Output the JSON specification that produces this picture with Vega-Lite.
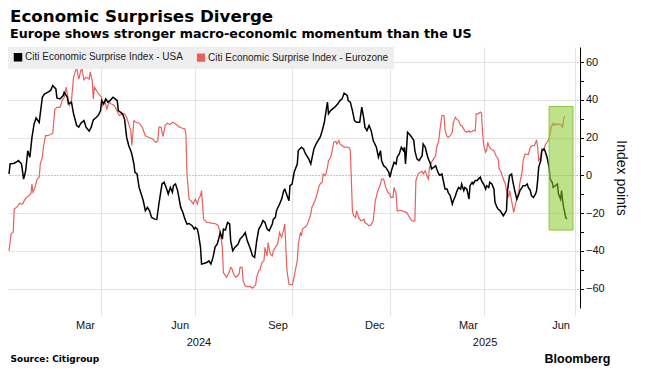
{
  "$schema": "https://vega.github.io/schema/vega-lite/v6.json",
  "width": 572,
  "height": 261,
  "autosize": {"type": "none"},
  "padding": {"left": 8, "top": 47, "right": 76, "bottom": 62},
  "background": "white",
  "title": {
    "text": "Economic Surprises Diverge",
    "subtitle": "Europe shows stronger macro-economic momentum than the US",
    "anchor": "start",
    "frame": "group",
    "dx": 2,
    "offset": 6,
    "font": "DejaVu Sans",
    "fontSize": 16.7,
    "fontWeight": "bold",
    "color": "#000000",
    "subtitleFont": "DejaVu Sans",
    "subtitleFontSize": 12.7,
    "subtitleFontWeight": "bold",
    "subtitleColor": "#000000",
    "subtitlePadding": 3
  },
  "resolve": {"axis": {"x": "independent"}},
  "layer": [
    {
      "data": {
        "values": [
          {"date": "2024-01-04", "series": "Eurozone", "value": -40},
          {"date": "2024-01-06", "series": "Eurozone", "value": -31},
          {"date": "2024-01-08", "series": "Eurozone", "value": -30},
          {"date": "2024-01-09", "series": "Eurozone", "value": -17.9},
          {"date": "2024-01-12", "series": "Eurozone", "value": -16.6},
          {"date": "2024-01-14", "series": "Eurozone", "value": -14.9},
          {"date": "2024-01-17", "series": "Eurozone", "value": -15.2},
          {"date": "2024-01-19", "series": "Eurozone", "value": -13},
          {"date": "2024-01-21", "series": "Eurozone", "value": -11.7},
          {"date": "2024-01-23", "series": "Eurozone", "value": -10.8},
          {"date": "2024-01-25", "series": "Eurozone", "value": -9.9},
          {"date": "2024-01-26", "series": "Eurozone", "value": -4.6},
          {"date": "2024-01-27", "series": "Eurozone", "value": -9},
          {"date": "2024-01-29", "series": "Eurozone", "value": -6.4},
          {"date": "2024-01-31", "series": "Eurozone", "value": -2},
          {"date": "2024-02-02", "series": "Eurozone", "value": -1},
          {"date": "2024-02-03", "series": "Eurozone", "value": 6},
          {"date": "2024-02-05", "series": "Eurozone", "value": 9.6},
          {"date": "2024-02-06", "series": "Eurozone", "value": 14.9},
          {"date": "2024-02-08", "series": "Eurozone", "value": 21},
          {"date": "2024-02-10", "series": "Eurozone", "value": 21},
          {"date": "2024-02-13", "series": "Eurozone", "value": 21.6},
          {"date": "2024-02-15", "series": "Eurozone", "value": 22.3},
          {"date": "2024-02-17", "series": "Eurozone", "value": 35},
          {"date": "2024-02-19", "series": "Eurozone", "value": 36},
          {"date": "2024-02-22", "series": "Eurozone", "value": 36},
          {"date": "2024-02-24", "series": "Eurozone", "value": 39.6},
          {"date": "2024-02-26", "series": "Eurozone", "value": 41.4},
          {"date": "2024-02-28", "series": "Eurozone", "value": 46.7},
          {"date": "2024-02-29", "series": "Eurozone", "value": 43},
          {"date": "2024-03-02", "series": "Eurozone", "value": 37},
          {"date": "2024-03-04", "series": "Eurozone", "value": 39.6},
          {"date": "2024-03-06", "series": "Eurozone", "value": 52},
          {"date": "2024-03-08", "series": "Eurozone", "value": 55.6},
          {"date": "2024-03-09", "series": "Eurozone", "value": 57},
          {"date": "2024-03-11", "series": "Eurozone", "value": 51},
          {"date": "2024-03-13", "series": "Eurozone", "value": 55.6},
          {"date": "2024-03-14", "series": "Eurozone", "value": 56.5},
          {"date": "2024-03-16", "series": "Eurozone", "value": 50.6},
          {"date": "2024-03-18", "series": "Eurozone", "value": 52},
          {"date": "2024-03-21", "series": "Eurozone", "value": 51},
          {"date": "2024-03-22", "series": "Eurozone", "value": 54.7},
          {"date": "2024-03-24", "series": "Eurozone", "value": 50},
          {"date": "2024-03-25", "series": "Eurozone", "value": 40.5},
          {"date": "2024-03-26", "series": "Eurozone", "value": 46.7},
          {"date": "2024-03-29", "series": "Eurozone", "value": 44},
          {"date": "2024-03-30", "series": "Eurozone", "value": 43.2},
          {"date": "2024-04-02", "series": "Eurozone", "value": 41.4},
          {"date": "2024-04-03", "series": "Eurozone", "value": 37},
          {"date": "2024-04-05", "series": "Eurozone", "value": 39.6},
          {"date": "2024-04-07", "series": "Eurozone", "value": 35.2},
          {"date": "2024-04-09", "series": "Eurozone", "value": 38.8},
          {"date": "2024-04-11", "series": "Eurozone", "value": 37.9},
          {"date": "2024-04-14", "series": "Eurozone", "value": 37},
          {"date": "2024-04-16", "series": "Eurozone", "value": 35.2},
          {"date": "2024-04-18", "series": "Eurozone", "value": 32.6},
          {"date": "2024-04-19", "series": "Eurozone", "value": 31.7},
          {"date": "2024-04-22", "series": "Eurozone", "value": 32.6},
          {"date": "2024-04-24", "series": "Eurozone", "value": 32.6},
          {"date": "2024-04-26", "series": "Eurozone", "value": 30.8},
          {"date": "2024-04-28", "series": "Eurozone", "value": 27.3},
          {"date": "2024-04-30", "series": "Eurozone", "value": 23.7},
          {"date": "2024-05-01", "series": "Eurozone", "value": 15.8},
          {"date": "2024-05-03", "series": "Eurozone", "value": 29},
          {"date": "2024-05-05", "series": "Eurozone", "value": 28.1},
          {"date": "2024-05-08", "series": "Eurozone", "value": 27.6},
          {"date": "2024-05-11", "series": "Eurozone", "value": 25.5},
          {"date": "2024-05-14", "series": "Eurozone", "value": 21},
          {"date": "2024-05-17", "series": "Eurozone", "value": 20.2},
          {"date": "2024-05-19", "series": "Eurozone", "value": 19.8},
          {"date": "2024-05-21", "series": "Eurozone", "value": 19.3},
          {"date": "2024-05-24", "series": "Eurozone", "value": 17.5},
          {"date": "2024-05-26", "series": "Eurozone", "value": 18.4},
          {"date": "2024-05-27", "series": "Eurozone", "value": 25.5},
          {"date": "2024-05-29", "series": "Eurozone", "value": 25.5},
          {"date": "2024-05-31", "series": "Eurozone", "value": 20.5},
          {"date": "2024-06-02", "series": "Eurozone", "value": 26.4},
          {"date": "2024-06-04", "series": "Eurozone", "value": 27.6},
          {"date": "2024-06-07", "series": "Eurozone", "value": 26.9},
          {"date": "2024-06-09", "series": "Eurozone", "value": 28.1},
          {"date": "2024-06-12", "series": "Eurozone", "value": 27.3},
          {"date": "2024-06-15", "series": "Eurozone", "value": 25.8},
          {"date": "2024-06-18", "series": "Eurozone", "value": 25.1},
          {"date": "2024-06-21", "series": "Eurozone", "value": 24.6},
          {"date": "2024-06-22", "series": "Eurozone", "value": 21.9},
          {"date": "2024-06-23", "series": "Eurozone", "value": 0.7},
          {"date": "2024-06-25", "series": "Eurozone", "value": -12.6},
          {"date": "2024-06-27", "series": "Eurozone", "value": -13.5},
          {"date": "2024-06-29", "series": "Eurozone", "value": -15.2},
          {"date": "2024-07-01", "series": "Eurozone", "value": -12.6},
          {"date": "2024-07-03", "series": "Eurozone", "value": -15.2},
          {"date": "2024-07-04", "series": "Eurozone", "value": -12.6},
          {"date": "2024-07-06", "series": "Eurozone", "value": -10.8},
          {"date": "2024-07-07", "series": "Eurozone", "value": -8.1},
          {"date": "2024-07-09", "series": "Eurozone", "value": -23.2},
          {"date": "2024-07-12", "series": "Eurozone", "value": -25},
          {"date": "2024-07-14", "series": "Eurozone", "value": -25},
          {"date": "2024-07-16", "series": "Eurozone", "value": -25.3},
          {"date": "2024-07-19", "series": "Eurozone", "value": -25.5},
          {"date": "2024-07-21", "series": "Eurozone", "value": -25.8},
          {"date": "2024-07-23", "series": "Eurozone", "value": -26.7},
          {"date": "2024-07-25", "series": "Eurozone", "value": -30.3},
          {"date": "2024-07-27", "series": "Eurozone", "value": -38.2},
          {"date": "2024-07-28", "series": "Eurozone", "value": -51.5},
          {"date": "2024-07-31", "series": "Eurozone", "value": -54},
          {"date": "2024-08-02", "series": "Eurozone", "value": -52},
          {"date": "2024-08-04", "series": "Eurozone", "value": -48.8},
          {"date": "2024-08-05", "series": "Eurozone", "value": -49.2},
          {"date": "2024-08-07", "series": "Eurozone", "value": -52.4},
          {"date": "2024-08-09", "series": "Eurozone", "value": -54},
          {"date": "2024-08-12", "series": "Eurozone", "value": -52.4},
          {"date": "2024-08-13", "series": "Eurozone", "value": -48.8},
          {"date": "2024-08-15", "series": "Eurozone", "value": -48.8},
          {"date": "2024-08-16", "series": "Eurozone", "value": -56},
          {"date": "2024-08-18", "series": "Eurozone", "value": -58.6},
          {"date": "2024-08-20", "series": "Eurozone", "value": -59},
          {"date": "2024-08-23", "series": "Eurozone", "value": -59},
          {"date": "2024-08-25", "series": "Eurozone", "value": -59.8},
          {"date": "2024-08-28", "series": "Eurozone", "value": -58},
          {"date": "2024-08-29", "series": "Eurozone", "value": -54},
          {"date": "2024-08-31", "series": "Eurozone", "value": -50.6},
          {"date": "2024-09-01", "series": "Eurozone", "value": -50.3},
          {"date": "2024-09-03", "series": "Eurozone", "value": -46.2},
          {"date": "2024-09-05", "series": "Eurozone", "value": -45.3},
          {"date": "2024-09-06", "series": "Eurozone", "value": -38.2},
          {"date": "2024-09-08", "series": "Eurozone", "value": -42.7},
          {"date": "2024-09-09", "series": "Eurozone", "value": -35.6},
          {"date": "2024-09-11", "series": "Eurozone", "value": -41.8},
          {"date": "2024-09-13", "series": "Eurozone", "value": -42.7},
          {"date": "2024-09-14", "series": "Eurozone", "value": -40},
          {"date": "2024-09-16", "series": "Eurozone", "value": -38.2},
          {"date": "2024-09-18", "series": "Eurozone", "value": -36.5},
          {"date": "2024-09-20", "series": "Eurozone", "value": -30.3},
          {"date": "2024-09-22", "series": "Eurozone", "value": -32.9},
          {"date": "2024-09-24", "series": "Eurozone", "value": -28.5},
          {"date": "2024-09-25", "series": "Eurozone", "value": -25.8},
          {"date": "2024-09-27", "series": "Eurozone", "value": -50},
          {"date": "2024-09-29", "series": "Eurozone", "value": -57.7},
          {"date": "2024-10-02", "series": "Eurozone", "value": -58},
          {"date": "2024-10-03", "series": "Eurozone", "value": -56.6},
          {"date": "2024-10-05", "series": "Eurozone", "value": -50.6},
          {"date": "2024-10-07", "series": "Eurozone", "value": -45.3},
          {"date": "2024-10-08", "series": "Eurozone", "value": -36.5},
          {"date": "2024-10-10", "series": "Eurozone", "value": -30.3},
          {"date": "2024-10-11", "series": "Eurozone", "value": -32},
          {"date": "2024-10-12", "series": "Eurozone", "value": -28.5},
          {"date": "2024-10-14", "series": "Eurozone", "value": -27.6},
          {"date": "2024-10-16", "series": "Eurozone", "value": -26.7},
          {"date": "2024-10-18", "series": "Eurozone", "value": -24},
          {"date": "2024-10-20", "series": "Eurozone", "value": -20.5},
          {"date": "2024-10-21", "series": "Eurozone", "value": -17},
          {"date": "2024-10-24", "series": "Eurozone", "value": -13.5},
          {"date": "2024-10-26", "series": "Eurozone", "value": -9.9},
          {"date": "2024-10-28", "series": "Eurozone", "value": -5.5},
          {"date": "2024-10-29", "series": "Eurozone", "value": -4.6},
          {"date": "2024-10-31", "series": "Eurozone", "value": -3.7},
          {"date": "2024-11-01", "series": "Eurozone", "value": 0.7},
          {"date": "2024-11-03", "series": "Eurozone", "value": -0.2},
          {"date": "2024-11-05", "series": "Eurozone", "value": 4.2},
          {"date": "2024-11-06", "series": "Eurozone", "value": 7.8},
          {"date": "2024-11-08", "series": "Eurozone", "value": 9.6},
          {"date": "2024-11-09", "series": "Eurozone", "value": 11.3},
          {"date": "2024-11-11", "series": "Eurozone", "value": 17.5},
          {"date": "2024-11-13", "series": "Eurozone", "value": 18},
          {"date": "2024-11-14", "series": "Eurozone", "value": 16.6},
          {"date": "2024-11-16", "series": "Eurozone", "value": 18.4},
          {"date": "2024-11-17", "series": "Eurozone", "value": 16.6},
          {"date": "2024-11-19", "series": "Eurozone", "value": 15.8},
          {"date": "2024-11-21", "series": "Eurozone", "value": 14.9},
          {"date": "2024-11-24", "series": "Eurozone", "value": 14.9},
          {"date": "2024-11-26", "series": "Eurozone", "value": 14.5},
          {"date": "2024-11-27", "series": "Eurozone", "value": 13.1},
          {"date": "2024-11-29", "series": "Eurozone", "value": -18.8},
          {"date": "2024-11-30", "series": "Eurozone", "value": -21.2},
          {"date": "2024-12-02", "series": "Eurozone", "value": -22.3},
          {"date": "2024-12-03", "series": "Eurozone", "value": -18.8},
          {"date": "2024-12-05", "series": "Eurozone", "value": -22.3},
          {"date": "2024-12-07", "series": "Eurozone", "value": -24},
          {"date": "2024-12-08", "series": "Eurozone", "value": -24},
          {"date": "2024-12-10", "series": "Eurozone", "value": -23.2},
          {"date": "2024-12-11", "series": "Eurozone", "value": -25},
          {"date": "2024-12-13", "series": "Eurozone", "value": -25.8},
          {"date": "2024-12-15", "series": "Eurozone", "value": -26.7},
          {"date": "2024-12-17", "series": "Eurozone", "value": -26.2},
          {"date": "2024-12-19", "series": "Eurozone", "value": -24},
          {"date": "2024-12-21", "series": "Eurozone", "value": -13.5},
          {"date": "2024-12-23", "series": "Eurozone", "value": -9},
          {"date": "2024-12-24", "series": "Eurozone", "value": -7.3},
          {"date": "2024-12-26", "series": "Eurozone", "value": -4.6},
          {"date": "2024-12-27", "series": "Eurozone", "value": -2},
          {"date": "2024-12-29", "series": "Eurozone", "value": -2},
          {"date": "2024-12-31", "series": "Eurozone", "value": -6.4},
          {"date": "2025-01-02", "series": "Eurozone", "value": -9},
          {"date": "2025-01-04", "series": "Eurozone", "value": -9.9},
          {"date": "2025-01-05", "series": "Eurozone", "value": -11.7},
          {"date": "2025-01-07", "series": "Eurozone", "value": -11.7},
          {"date": "2025-01-08", "series": "Eurozone", "value": -6.4},
          {"date": "2025-01-10", "series": "Eurozone", "value": -9.9},
          {"date": "2025-01-11", "series": "Eurozone", "value": -18.8},
          {"date": "2025-01-12", "series": "Eurozone", "value": -18.8},
          {"date": "2025-01-14", "series": "Eurozone", "value": -18.4},
          {"date": "2025-01-17", "series": "Eurozone", "value": -19.1},
          {"date": "2025-01-20", "series": "Eurozone", "value": -19.6},
          {"date": "2025-01-23", "series": "Eurozone", "value": -22.3},
          {"date": "2025-01-25", "series": "Eurozone", "value": -24},
          {"date": "2025-01-27", "series": "Eurozone", "value": -24.4},
          {"date": "2025-01-28", "series": "Eurozone", "value": -24},
          {"date": "2025-01-29", "series": "Eurozone", "value": -2.8},
          {"date": "2025-01-31", "series": "Eurozone", "value": 0.7},
          {"date": "2025-02-02", "series": "Eurozone", "value": 1.6},
          {"date": "2025-02-04", "series": "Eurozone", "value": 2.1},
          {"date": "2025-02-05", "series": "Eurozone", "value": 0.7},
          {"date": "2025-02-07", "series": "Eurozone", "value": 2.5},
          {"date": "2025-02-09", "series": "Eurozone", "value": -1},
          {"date": "2025-02-10", "series": "Eurozone", "value": -2},
          {"date": "2025-02-11", "series": "Eurozone", "value": 4.2},
          {"date": "2025-02-13", "series": "Eurozone", "value": 6.9},
          {"date": "2025-02-15", "series": "Eurozone", "value": 8.7},
          {"date": "2025-02-17", "series": "Eurozone", "value": 10.4},
          {"date": "2025-02-18", "series": "Eurozone", "value": 14.9},
          {"date": "2025-02-20", "series": "Eurozone", "value": 18.4},
          {"date": "2025-02-21", "series": "Eurozone", "value": 23.7},
          {"date": "2025-02-23", "series": "Eurozone", "value": 31.7},
          {"date": "2025-02-25", "series": "Eurozone", "value": 31.7},
          {"date": "2025-02-26", "series": "Eurozone", "value": 23.7},
          {"date": "2025-02-28", "series": "Eurozone", "value": 20.5},
          {"date": "2025-03-01", "series": "Eurozone", "value": 20.2},
          {"date": "2025-03-03", "series": "Eurozone", "value": 21},
          {"date": "2025-03-05", "series": "Eurozone", "value": 22.8},
          {"date": "2025-03-06", "series": "Eurozone", "value": 28.1},
          {"date": "2025-03-08", "series": "Eurozone", "value": 30.8},
          {"date": "2025-03-09", "series": "Eurozone", "value": 29.9},
          {"date": "2025-03-11", "series": "Eurozone", "value": 29},
          {"date": "2025-03-13", "series": "Eurozone", "value": 26.4},
          {"date": "2025-03-14", "series": "Eurozone", "value": 26.4},
          {"date": "2025-03-16", "series": "Eurozone", "value": 24.6},
          {"date": "2025-03-17", "series": "Eurozone", "value": 23.4},
          {"date": "2025-03-19", "series": "Eurozone", "value": 22.8},
          {"date": "2025-03-21", "series": "Eurozone", "value": 23.7},
          {"date": "2025-03-22", "series": "Eurozone", "value": 22.8},
          {"date": "2025-03-24", "series": "Eurozone", "value": 23.4},
          {"date": "2025-03-25", "series": "Eurozone", "value": 23.7},
          {"date": "2025-03-27", "series": "Eurozone", "value": 23.7},
          {"date": "2025-03-28", "series": "Eurozone", "value": 32.6},
          {"date": "2025-03-30", "series": "Eurozone", "value": 32.6},
          {"date": "2025-04-01", "series": "Eurozone", "value": 33.5},
          {"date": "2025-04-02", "series": "Eurozone", "value": 33},
          {"date": "2025-04-03", "series": "Eurozone", "value": 23.7},
          {"date": "2025-04-04", "series": "Eurozone", "value": 16.6},
          {"date": "2025-04-06", "series": "Eurozone", "value": 12.2},
          {"date": "2025-04-07", "series": "Eurozone", "value": 13.1},
          {"date": "2025-04-08", "series": "Eurozone", "value": 17.5},
          {"date": "2025-04-09", "series": "Eurozone", "value": 15.8},
          {"date": "2025-04-11", "series": "Eurozone", "value": 14},
          {"date": "2025-04-14", "series": "Eurozone", "value": 13.1},
          {"date": "2025-04-16", "series": "Eurozone", "value": 10.4},
          {"date": "2025-04-18", "series": "Eurozone", "value": 8.7},
          {"date": "2025-04-19", "series": "Eurozone", "value": 3.4},
          {"date": "2025-04-21", "series": "Eurozone", "value": 1.6},
          {"date": "2025-04-23", "series": "Eurozone", "value": -2},
          {"date": "2025-04-25", "series": "Eurozone", "value": -4.6},
          {"date": "2025-04-26", "series": "Eurozone", "value": -8.1},
          {"date": "2025-04-28", "series": "Eurozone", "value": -11.7},
          {"date": "2025-04-29", "series": "Eurozone", "value": -8.1},
          {"date": "2025-05-01", "series": "Eurozone", "value": -13.5},
          {"date": "2025-05-03", "series": "Eurozone", "value": -19.6},
          {"date": "2025-05-04", "series": "Eurozone", "value": -17},
          {"date": "2025-05-06", "series": "Eurozone", "value": -12.6},
          {"date": "2025-05-08", "series": "Eurozone", "value": -8.1},
          {"date": "2025-05-09", "series": "Eurozone", "value": -3.7},
          {"date": "2025-05-11", "series": "Eurozone", "value": 1.6},
          {"date": "2025-05-12", "series": "Eurozone", "value": 7.8},
          {"date": "2025-05-14", "series": "Eurozone", "value": 11.3},
          {"date": "2025-05-17", "series": "Eurozone", "value": 11},
          {"date": "2025-05-19", "series": "Eurozone", "value": 14.9},
          {"date": "2025-05-21", "series": "Eurozone", "value": 15.8},
          {"date": "2025-05-23", "series": "Eurozone", "value": 15.8},
          {"date": "2025-05-25", "series": "Eurozone", "value": 18.8},
          {"date": "2025-05-26", "series": "Eurozone", "value": 14.9},
          {"date": "2025-05-27", "series": "Eurozone", "value": 7.8},
          {"date": "2025-05-29", "series": "Eurozone", "value": 9.6},
          {"date": "2025-05-30", "series": "Eurozone", "value": 14},
          {"date": "2025-06-01", "series": "Eurozone", "value": 13.1},
          {"date": "2025-06-02", "series": "Eurozone", "value": 15.8},
          {"date": "2025-06-04", "series": "Eurozone", "value": 17.5},
          {"date": "2025-06-06", "series": "Eurozone", "value": 19.3},
          {"date": "2025-06-07", "series": "Eurozone", "value": 21.9},
          {"date": "2025-06-08", "series": "Eurozone", "value": 25.5},
          {"date": "2025-06-10", "series": "Eurozone", "value": 27.6},
          {"date": "2025-06-11", "series": "Eurozone", "value": 26.4},
          {"date": "2025-06-13", "series": "Eurozone", "value": 27.3},
          {"date": "2025-06-14", "series": "Eurozone", "value": 26.9},
          {"date": "2025-06-16", "series": "Eurozone", "value": 27.3},
          {"date": "2025-06-18", "series": "Eurozone", "value": 26.4},
          {"date": "2025-06-19", "series": "Eurozone", "value": 25.5},
          {"date": "2025-06-20", "series": "Eurozone", "value": 29.9},
          {"date": "2025-06-21", "series": "Eurozone", "value": 31.3},
          {"date": "2024-01-04", "series": "USA", "value": 0.7},
          {"date": "2024-01-05", "series": "USA", "value": 6},
          {"date": "2024-01-09", "series": "USA", "value": 6.4},
          {"date": "2024-01-12", "series": "USA", "value": 7.4},
          {"date": "2024-01-13", "series": "USA", "value": 7.8},
          {"date": "2024-01-16", "series": "USA", "value": 6},
          {"date": "2024-01-18", "series": "USA", "value": -2},
          {"date": "2024-01-20", "series": "USA", "value": 2.5},
          {"date": "2024-01-22", "series": "USA", "value": 13},
          {"date": "2024-01-24", "series": "USA", "value": 9.6},
          {"date": "2024-01-26", "series": "USA", "value": 20},
          {"date": "2024-01-28", "series": "USA", "value": 27},
          {"date": "2024-01-30", "series": "USA", "value": 30.4},
          {"date": "2024-02-02", "series": "USA", "value": 28},
          {"date": "2024-02-03", "series": "USA", "value": 32.6},
          {"date": "2024-02-05", "series": "USA", "value": 41.4},
          {"date": "2024-02-07", "series": "USA", "value": 43},
          {"date": "2024-02-10", "series": "USA", "value": 44},
          {"date": "2024-02-13", "series": "USA", "value": 45},
          {"date": "2024-02-15", "series": "USA", "value": 47.6},
          {"date": "2024-02-18", "series": "USA", "value": 45.8},
          {"date": "2024-02-19", "series": "USA", "value": 41},
          {"date": "2024-02-22", "series": "USA", "value": 40.5},
          {"date": "2024-02-25", "series": "USA", "value": 42.3},
          {"date": "2024-02-26", "series": "USA", "value": 44},
          {"date": "2024-02-29", "series": "USA", "value": 41.4},
          {"date": "2024-03-01", "series": "USA", "value": 37.9},
          {"date": "2024-03-04", "series": "USA", "value": 38.8},
          {"date": "2024-03-06", "series": "USA", "value": 32.6},
          {"date": "2024-03-09", "series": "USA", "value": 26.4},
          {"date": "2024-03-11", "series": "USA", "value": 25.5},
          {"date": "2024-03-13", "series": "USA", "value": 27.6},
          {"date": "2024-03-16", "series": "USA", "value": 29},
          {"date": "2024-03-18", "series": "USA", "value": 25.5},
          {"date": "2024-03-21", "series": "USA", "value": 23.4},
          {"date": "2024-03-23", "series": "USA", "value": 25.5},
          {"date": "2024-03-25", "series": "USA", "value": 29.4},
          {"date": "2024-03-28", "series": "USA", "value": 30.8},
          {"date": "2024-03-30", "series": "USA", "value": 32},
          {"date": "2024-04-01", "series": "USA", "value": 34.3},
          {"date": "2024-04-02", "series": "USA", "value": 39.6},
          {"date": "2024-04-04", "series": "USA", "value": 37.9},
          {"date": "2024-04-06", "series": "USA", "value": 40.5},
          {"date": "2024-04-08", "series": "USA", "value": 38.8},
          {"date": "2024-04-10", "series": "USA", "value": 39.6},
          {"date": "2024-04-13", "series": "USA", "value": 41.4},
          {"date": "2024-04-15", "series": "USA", "value": 40.5},
          {"date": "2024-04-17", "series": "USA", "value": 39.6},
          {"date": "2024-04-18", "series": "USA", "value": 34.3},
          {"date": "2024-04-20", "series": "USA", "value": 33.5},
          {"date": "2024-04-22", "series": "USA", "value": 32.6},
          {"date": "2024-04-24", "series": "USA", "value": 29.9},
          {"date": "2024-04-26", "series": "USA", "value": 20.2},
          {"date": "2024-04-28", "series": "USA", "value": 15.8},
          {"date": "2024-04-30", "series": "USA", "value": 13},
          {"date": "2024-05-01", "series": "USA", "value": 11.3},
          {"date": "2024-05-03", "series": "USA", "value": 6},
          {"date": "2024-05-04", "series": "USA", "value": 1.6},
          {"date": "2024-05-06", "series": "USA", "value": 0.7},
          {"date": "2024-05-08", "series": "USA", "value": -6.4},
          {"date": "2024-05-10", "series": "USA", "value": -9.9},
          {"date": "2024-05-12", "series": "USA", "value": -13.5},
          {"date": "2024-05-14", "series": "USA", "value": -18.8},
          {"date": "2024-05-16", "series": "USA", "value": -17},
          {"date": "2024-05-18", "series": "USA", "value": -18.8},
          {"date": "2024-05-20", "series": "USA", "value": -22.3},
          {"date": "2024-05-23", "series": "USA", "value": -23.2},
          {"date": "2024-05-25", "series": "USA", "value": -23.4},
          {"date": "2024-05-27", "series": "USA", "value": -15.2},
          {"date": "2024-05-30", "series": "USA", "value": -4.6},
          {"date": "2024-06-01", "series": "USA", "value": -3.7},
          {"date": "2024-06-03", "series": "USA", "value": -6.4},
          {"date": "2024-06-05", "series": "USA", "value": -9.9},
          {"date": "2024-06-07", "series": "USA", "value": -6.4},
          {"date": "2024-06-09", "series": "USA", "value": -9},
          {"date": "2024-06-10", "series": "USA", "value": -5.5},
          {"date": "2024-06-12", "series": "USA", "value": -4.6},
          {"date": "2024-06-14", "series": "USA", "value": -8.1},
          {"date": "2024-06-17", "series": "USA", "value": -17},
          {"date": "2024-06-19", "series": "USA", "value": -19.6},
          {"date": "2024-06-21", "series": "USA", "value": -23.2},
          {"date": "2024-06-23", "series": "USA", "value": -25.8},
          {"date": "2024-06-25", "series": "USA", "value": -25.5},
          {"date": "2024-06-28", "series": "USA", "value": -26.7},
          {"date": "2024-06-30", "series": "USA", "value": -28.5},
          {"date": "2024-07-01", "series": "USA", "value": -27.6},
          {"date": "2024-07-03", "series": "USA", "value": -28.5},
          {"date": "2024-07-04", "series": "USA", "value": -31},
          {"date": "2024-07-06", "series": "USA", "value": -38},
          {"date": "2024-07-07", "series": "USA", "value": -47},
          {"date": "2024-07-09", "series": "USA", "value": -46.7},
          {"date": "2024-07-12", "series": "USA", "value": -46.2},
          {"date": "2024-07-14", "series": "USA", "value": -45.3},
          {"date": "2024-07-16", "series": "USA", "value": -47},
          {"date": "2024-07-18", "series": "USA", "value": -43.5},
          {"date": "2024-07-20", "series": "USA", "value": -38},
          {"date": "2024-07-22", "series": "USA", "value": -36.5},
          {"date": "2024-07-23", "series": "USA", "value": -34.7},
          {"date": "2024-07-25", "series": "USA", "value": -30.3},
          {"date": "2024-07-27", "series": "USA", "value": -33.8},
          {"date": "2024-07-28", "series": "USA", "value": -28.5},
          {"date": "2024-07-30", "series": "USA", "value": -29},
          {"date": "2024-08-01", "series": "USA", "value": -25},
          {"date": "2024-08-03", "series": "USA", "value": -25.8},
          {"date": "2024-08-04", "series": "USA", "value": -34.7},
          {"date": "2024-08-06", "series": "USA", "value": -40},
          {"date": "2024-08-08", "series": "USA", "value": -38.2},
          {"date": "2024-08-11", "series": "USA", "value": -36.5},
          {"date": "2024-08-13", "series": "USA", "value": -33.8},
          {"date": "2024-08-16", "series": "USA", "value": -32},
          {"date": "2024-08-18", "series": "USA", "value": -30.3},
          {"date": "2024-08-20", "series": "USA", "value": -34.7},
          {"date": "2024-08-23", "series": "USA", "value": -39},
          {"date": "2024-08-25", "series": "USA", "value": -42.7},
          {"date": "2024-08-27", "series": "USA", "value": -43.5},
          {"date": "2024-08-29", "series": "USA", "value": -34.7},
          {"date": "2024-08-31", "series": "USA", "value": -28.5},
          {"date": "2024-09-02", "series": "USA", "value": -26.7},
          {"date": "2024-09-04", "series": "USA", "value": -24},
          {"date": "2024-09-06", "series": "USA", "value": -25},
          {"date": "2024-09-08", "series": "USA", "value": -28.5},
          {"date": "2024-09-10", "series": "USA", "value": -29.4},
          {"date": "2024-09-13", "series": "USA", "value": -25.8},
          {"date": "2024-09-14", "series": "USA", "value": -23.2},
          {"date": "2024-09-16", "series": "USA", "value": -22.3},
          {"date": "2024-09-17", "series": "USA", "value": -18.8},
          {"date": "2024-09-20", "series": "USA", "value": -15.2},
          {"date": "2024-09-22", "series": "USA", "value": -12.6},
          {"date": "2024-09-24", "series": "USA", "value": -8.1},
          {"date": "2024-09-25", "series": "USA", "value": -7.4},
          {"date": "2024-09-29", "series": "USA", "value": -13.5},
          {"date": "2024-09-30", "series": "USA", "value": -5.5},
          {"date": "2024-10-02", "series": "USA", "value": -4.6},
          {"date": "2024-10-04", "series": "USA", "value": 1.6},
          {"date": "2024-10-07", "series": "USA", "value": 6},
          {"date": "2024-10-08", "series": "USA", "value": 13.1},
          {"date": "2024-10-11", "series": "USA", "value": 14.9},
          {"date": "2024-10-13", "series": "USA", "value": 14},
          {"date": "2024-10-15", "series": "USA", "value": 11.3},
          {"date": "2024-10-18", "series": "USA", "value": 8.7},
          {"date": "2024-10-20", "series": "USA", "value": 6},
          {"date": "2024-10-23", "series": "USA", "value": 14},
          {"date": "2024-10-25", "series": "USA", "value": 16.6},
          {"date": "2024-10-27", "series": "USA", "value": 18.4},
          {"date": "2024-10-29", "series": "USA", "value": 20.2},
          {"date": "2024-10-31", "series": "USA", "value": 23.7},
          {"date": "2024-11-02", "series": "USA", "value": 28.1},
          {"date": "2024-11-05", "series": "USA", "value": 38.8},
          {"date": "2024-11-06", "series": "USA", "value": 32.6},
          {"date": "2024-11-08", "series": "USA", "value": 34.3},
          {"date": "2024-11-10", "series": "USA", "value": 35.2},
          {"date": "2024-11-12", "series": "USA", "value": 36.1},
          {"date": "2024-11-15", "series": "USA", "value": 37.9},
          {"date": "2024-11-17", "series": "USA", "value": 39.6},
          {"date": "2024-11-19", "series": "USA", "value": 40.5},
          {"date": "2024-11-21", "series": "USA", "value": 43.5},
          {"date": "2024-11-24", "series": "USA", "value": 42.3},
          {"date": "2024-11-25", "series": "USA", "value": 39.6},
          {"date": "2024-11-27", "series": "USA", "value": 38.8},
          {"date": "2024-11-29", "series": "USA", "value": 34.3},
          {"date": "2024-12-01", "series": "USA", "value": 29},
          {"date": "2024-12-03", "series": "USA", "value": 28.1},
          {"date": "2024-12-06", "series": "USA", "value": 28.1},
          {"date": "2024-12-08", "series": "USA", "value": 36.1},
          {"date": "2024-12-10", "series": "USA", "value": 29.9},
          {"date": "2024-12-11", "series": "USA", "value": 25.5},
          {"date": "2024-12-13", "series": "USA", "value": 23.7},
          {"date": "2024-12-15", "series": "USA", "value": 26.4},
          {"date": "2024-12-17", "series": "USA", "value": 23.7},
          {"date": "2024-12-19", "series": "USA", "value": 18.4},
          {"date": "2024-12-22", "series": "USA", "value": 14.9},
          {"date": "2024-12-24", "series": "USA", "value": 9.6},
          {"date": "2024-12-26", "series": "USA", "value": 13.1},
          {"date": "2024-12-27", "series": "USA", "value": 7.8},
          {"date": "2024-12-29", "series": "USA", "value": 5.1},
          {"date": "2024-12-31", "series": "USA", "value": 4.2},
          {"date": "2025-01-01", "series": "USA", "value": 3.4},
          {"date": "2025-01-03", "series": "USA", "value": 1.6},
          {"date": "2025-01-04", "series": "USA", "value": -1},
          {"date": "2025-01-06", "series": "USA", "value": 3.4},
          {"date": "2025-01-07", "series": "USA", "value": 5.1},
          {"date": "2025-01-08", "series": "USA", "value": 6.9},
          {"date": "2025-01-10", "series": "USA", "value": 6},
          {"date": "2025-01-11", "series": "USA", "value": 9.6},
          {"date": "2025-01-13", "series": "USA", "value": 11.3},
          {"date": "2025-01-15", "series": "USA", "value": 14.9},
          {"date": "2025-01-17", "series": "USA", "value": 13.1},
          {"date": "2025-01-18", "series": "USA", "value": 14.9},
          {"date": "2025-01-19", "series": "USA", "value": 6},
          {"date": "2025-01-20", "series": "USA", "value": 14},
          {"date": "2025-01-21", "series": "USA", "value": 22.8},
          {"date": "2025-01-23", "series": "USA", "value": 21.6},
          {"date": "2025-01-25", "series": "USA", "value": 20.2},
          {"date": "2025-01-27", "series": "USA", "value": 18.4},
          {"date": "2025-01-28", "series": "USA", "value": 13.1},
          {"date": "2025-01-30", "series": "USA", "value": 8.7},
          {"date": "2025-02-01", "series": "USA", "value": 7.8},
          {"date": "2025-02-02", "series": "USA", "value": 8.7},
          {"date": "2025-02-04", "series": "USA", "value": 10.4},
          {"date": "2025-02-05", "series": "USA", "value": 16.6},
          {"date": "2025-02-07", "series": "USA", "value": 14.9},
          {"date": "2025-02-09", "series": "USA", "value": 10.4},
          {"date": "2025-02-10", "series": "USA", "value": 8.7},
          {"date": "2025-02-12", "series": "USA", "value": 6},
          {"date": "2025-02-13", "series": "USA", "value": 3.4},
          {"date": "2025-02-15", "series": "USA", "value": 4.2},
          {"date": "2025-02-17", "series": "USA", "value": 5.1},
          {"date": "2025-02-18", "series": "USA", "value": 3.4},
          {"date": "2025-02-20", "series": "USA", "value": 0.7},
          {"date": "2025-02-21", "series": "USA", "value": 0},
          {"date": "2025-02-23", "series": "USA", "value": 0.7},
          {"date": "2025-02-25", "series": "USA", "value": -4.6},
          {"date": "2025-02-26", "series": "USA", "value": -7.3},
          {"date": "2025-02-28", "series": "USA", "value": -7.3},
          {"date": "2025-03-01", "series": "USA", "value": -9},
          {"date": "2025-03-03", "series": "USA", "value": -10.8},
          {"date": "2025-03-05", "series": "USA", "value": -15.2},
          {"date": "2025-03-06", "series": "USA", "value": -13.5},
          {"date": "2025-03-08", "series": "USA", "value": -10.8},
          {"date": "2025-03-09", "series": "USA", "value": -9},
          {"date": "2025-03-11", "series": "USA", "value": -6.4},
          {"date": "2025-03-13", "series": "USA", "value": -7.3},
          {"date": "2025-03-14", "series": "USA", "value": -4.6},
          {"date": "2025-03-16", "series": "USA", "value": -8.1},
          {"date": "2025-03-17", "series": "USA", "value": -6.4},
          {"date": "2025-03-19", "series": "USA", "value": -7.3},
          {"date": "2025-03-21", "series": "USA", "value": -12.6},
          {"date": "2025-03-22", "series": "USA", "value": -5.5},
          {"date": "2025-03-24", "series": "USA", "value": -3.7},
          {"date": "2025-03-25", "series": "USA", "value": -4.6},
          {"date": "2025-03-27", "series": "USA", "value": -2.8},
          {"date": "2025-03-29", "series": "USA", "value": -2.8},
          {"date": "2025-03-30", "series": "USA", "value": -2},
          {"date": "2025-04-01", "series": "USA", "value": -1},
          {"date": "2025-04-02", "series": "USA", "value": -2.8},
          {"date": "2025-04-04", "series": "USA", "value": -4.6},
          {"date": "2025-04-06", "series": "USA", "value": -7.3},
          {"date": "2025-04-07", "series": "USA", "value": -5.5},
          {"date": "2025-04-09", "series": "USA", "value": -6.4},
          {"date": "2025-04-10", "series": "USA", "value": -3.7},
          {"date": "2025-04-12", "series": "USA", "value": -4.6},
          {"date": "2025-04-14", "series": "USA", "value": -7.3},
          {"date": "2025-04-15", "series": "USA", "value": -14.3},
          {"date": "2025-04-17", "series": "USA", "value": -17},
          {"date": "2025-04-18", "series": "USA", "value": -17.9},
          {"date": "2025-04-20", "series": "USA", "value": -18.8},
          {"date": "2025-04-22", "series": "USA", "value": -20.5},
          {"date": "2025-04-23", "series": "USA", "value": -21.4},
          {"date": "2025-04-25", "series": "USA", "value": -19.6},
          {"date": "2025-04-26", "series": "USA", "value": -18.8},
          {"date": "2025-04-27", "series": "USA", "value": -8.1},
          {"date": "2025-04-29", "series": "USA", "value": 0},
          {"date": "2025-05-01", "series": "USA", "value": 0.7},
          {"date": "2025-05-02", "series": "USA", "value": -2.8},
          {"date": "2025-05-04", "series": "USA", "value": -8.1},
          {"date": "2025-05-06", "series": "USA", "value": -12.6},
          {"date": "2025-05-08", "series": "USA", "value": -9.9},
          {"date": "2025-05-09", "series": "USA", "value": -8.1},
          {"date": "2025-05-11", "series": "USA", "value": -6.4},
          {"date": "2025-05-12", "series": "USA", "value": -5.5},
          {"date": "2025-05-14", "series": "USA", "value": -5.5},
          {"date": "2025-05-16", "series": "USA", "value": -4.6},
          {"date": "2025-05-17", "series": "USA", "value": -6.4},
          {"date": "2025-05-19", "series": "USA", "value": -8.1},
          {"date": "2025-05-20", "series": "USA", "value": -10.8},
          {"date": "2025-05-22", "series": "USA", "value": -11.7},
          {"date": "2025-05-24", "series": "USA", "value": -9.9},
          {"date": "2025-05-25", "series": "USA", "value": -8.1},
          {"date": "2025-05-26", "series": "USA", "value": -2.8},
          {"date": "2025-05-27", "series": "USA", "value": 4.2},
          {"date": "2025-05-29", "series": "USA", "value": 7.8},
          {"date": "2025-05-30", "series": "USA", "value": 13.1},
          {"date": "2025-06-01", "series": "USA", "value": 14},
          {"date": "2025-06-02", "series": "USA", "value": 13.1},
          {"date": "2025-06-04", "series": "USA", "value": 9.6},
          {"date": "2025-06-06", "series": "USA", "value": 4.2},
          {"date": "2025-06-07", "series": "USA", "value": -2},
          {"date": "2025-06-09", "series": "USA", "value": -3.7},
          {"date": "2025-06-10", "series": "USA", "value": -6.4},
          {"date": "2025-06-12", "series": "USA", "value": -5.5},
          {"date": "2025-06-14", "series": "USA", "value": -4.6},
          {"date": "2025-06-15", "series": "USA", "value": -9.9},
          {"date": "2025-06-17", "series": "USA", "value": -12.6},
          {"date": "2025-06-18", "series": "USA", "value": -8.1},
          {"date": "2025-06-19", "series": "USA", "value": -13.5},
          {"date": "2025-06-20", "series": "USA", "value": -17},
          {"date": "2025-06-22", "series": "USA", "value": -22.3},
          {"date": "2025-06-23", "series": "USA", "value": -23.2}
        ]
      },
      "mark": {"type": "line", "interpolate": "linear"},
      "encoding": {
        "x": {
          "field": "date",
          "type": "temporal",
          "scale": {
            "type": "utc",
            "domain": [
              {"year": 2024, "month": 1, "date": 3, "utc": true},
              {"year": 2025, "month": 7, "date": 5, "hours": 17, "utc": true}
            ]
          },
          "axis": {
            "orient": "bottom",
            "values": [
              {"year": 2024, "month": 4, "date": 1, "utc": true},
              {"year": 2024, "month": 7, "date": 1, "utc": true},
              {"year": 2024, "month": 10, "date": 2, "utc": true},
              {"year": 2025, "month": 1, "date": 4, "utc": true},
              {"year": 2025, "month": 4, "date": 4, "utc": true},
              {"year": 2025, "month": 7, "date": 1, "utc": true}
            ],
            "grid": true,
            "gridColor": "#e4e4e4",
            "gridWidth": 1,
            "ticks": true,
            "tickSize": 8,
            "tickColor": "#e4e4e4",
            "labels": false,
            "domain": false,
            "title": "Bloomberg",
            "titleX": 602,
            "titleY": 54,
            "titleAlign": "right",
            "titleBaseline": "alphabetic",
            "titleFont": "Liberation Sans",
            "titleFontSize": 12.5,
            "titleFontWeight": "bold",
            "titleColor": "#000000"
          }
        },
        "y": {
          "field": "value",
          "type": "quantitative",
          "scale": {"domain": [-70.3, 68], "nice": false, "zero": false},
          "axis": {
            "orient": "right",
            "values": [-60, -50, -40, -30, -20, -10, 0, 10, 20, 30, 40, 50, 60],
            "labelExpr": "datum.value % 20 === 0 ? datum.label : ''",
            "grid": true,
            "gridColor": {
              "condition": [
                {"test": "datum.value === 0", "value": "#8c8c8c"},
                {"test": "datum.value % 20 !== 0", "value": "rgba(0,0,0,0)"}
              ],
              "value": "#e4e4e4"
            },
            "gridDash": {"condition": {"test": "datum.value === 0", "value": [1, 2]}, "value": []},
            "ticks": true,
            "tickSize": 3.5,
            "tickColor": "#000000",
            "domain": true,
            "domainColor": "#000000",
            "labelPadding": 2,
            "labelFont": "Liberation Sans",
            "labelFontSize": 11,
            "labelColor": "#111111",
            "title": "Index points",
            "titleFont": "Liberation Sans",
            "titleFontSize": 14,
            "titleFontWeight": "normal",
            "titleColor": "#111111",
            "titlePadding": 9
          }
        },
        "color": {
          "field": "series",
          "type": "nominal",
          "scale": {"domain": ["USA", "Eurozone"], "range": ["#000000", "#e8605d"]},
          "legend": {
            "title": null,
            "orient": "top-left",
            "offset": 0,
            "direction": "horizontal",
            "fillColor": "#eeeeee",
            "padding": 5,
            "symbolType": "square",
            "symbolSize": 49,
            "symbolStrokeWidth": 0,
            "labelFont": "Liberation Sans",
            "labelFontSize": 10,
            "labelLimit": 400,
            "labelColor": "#222222",
            "labelOffset": 2,
            "columnPadding": 12,
            "labelExpr": "'Citi Economic Surprise Index - ' + datum.label",
            "encode": {
              "symbols": {
                "update": {
                  "fill": {"scale": "color", "field": "value"},
                  "stroke": {"value": "transparent"}
                }
              }
            }
          }
        },
        "strokeWidth": {
          "field": "series",
          "type": "nominal",
          "scale": {"domain": ["USA", "Eurozone"], "range": [1.5, 1.2]},
          "legend": null
        }
      }
    },
    {
      "data": {"values": [{"start": "2025-06-06", "end": "2025-06-29", "low": -29, "high": 36.5}]},
      "mark": {"type": "rect", "fill": "#89c82e", "fillOpacity": 0.55, "stroke": "#8cc63f", "strokeWidth": 1},
      "encoding": {
        "x": {
          "field": "start",
          "type": "temporal",
          "scale": {
            "type": "utc",
            "domain": [
              {"year": 2024, "month": 1, "date": 3, "utc": true},
              {"year": 2025, "month": 7, "date": 5, "hours": 17, "utc": true}
            ]
          },
          "axis": {
            "orient": "bottom",
            "values": [
              {"year": 2024, "month": 3, "date": 17, "utc": true},
              {"year": 2024, "month": 6, "date": 16, "utc": true},
              {"year": 2024, "month": 7, "date": 4, "utc": true},
              {"year": 2024, "month": 9, "date": 18, "utc": true},
              {"year": 2024, "month": 12, "date": 20, "utc": true},
              {"year": 2025, "month": 3, "date": 20, "utc": true},
              {"year": 2025, "month": 4, "date": 5, "utc": true},
              {"year": 2025, "month": 6, "date": 17, "utc": true}
            ],
            "grid": false,
            "ticks": false,
            "domain": false,
            "labelExpr": "utcdate(datum.value) < 10 ? utcFormat(datum.value, '%Y') : utcFormat(datum.value, '%b')",
            "labelPadding": {"condition": {"test": "utcdate(datum.value) < 10", "value": 28}, "value": 11},
            "labelBaseline": "top",
            "labelFlush": false,
            "labelOverlap": false,
            "labelFont": "Liberation Sans",
            "labelFontSize": 11,
            "labelColor": "#111111",
            "title": "Source: Citigroup",
            "titleX": 2,
            "titleY": 53,
            "titleAlign": "left",
            "titleBaseline": "alphabetic",
            "titleFont": "DejaVu Sans",
            "titleFontSize": 9,
            "titleFontWeight": "bold",
            "titleColor": "#000000"
          }
        },
        "x2": {"field": "end"},
        "y": {
          "field": "high",
          "type": "quantitative",
          "scale": {"domain": [-70.3, 68], "nice": false, "zero": false},
          "axis": {
            "orient": "right",
            "values": [-60, -50, -40, -30, -20, -10, 0, 10, 20, 30, 40, 50, 60],
            "labelExpr": "datum.value % 20 === 0 ? datum.label : ''",
            "grid": true,
            "gridColor": {
              "condition": [
                {"test": "datum.value === 0", "value": "#8c8c8c"},
                {"test": "datum.value % 20 !== 0", "value": "rgba(0,0,0,0)"}
              ],
              "value": "#e4e4e4"
            },
            "gridDash": {"condition": {"test": "datum.value === 0", "value": [1, 2]}, "value": []},
            "ticks": true,
            "tickSize": 3.5,
            "tickColor": "#000000",
            "domain": true,
            "domainColor": "#000000",
            "labelPadding": 2,
            "labelFont": "Liberation Sans",
            "labelFontSize": 11,
            "labelColor": "#111111",
            "title": "Index points",
            "titleFont": "Liberation Sans",
            "titleFontSize": 14,
            "titleFontWeight": "normal",
            "titleColor": "#111111",
            "titlePadding": 9
          }
        },
        "y2": {"field": "low"}
      }
    }
  ],
  "config": {
    "view": {"stroke": null}
  }
}
